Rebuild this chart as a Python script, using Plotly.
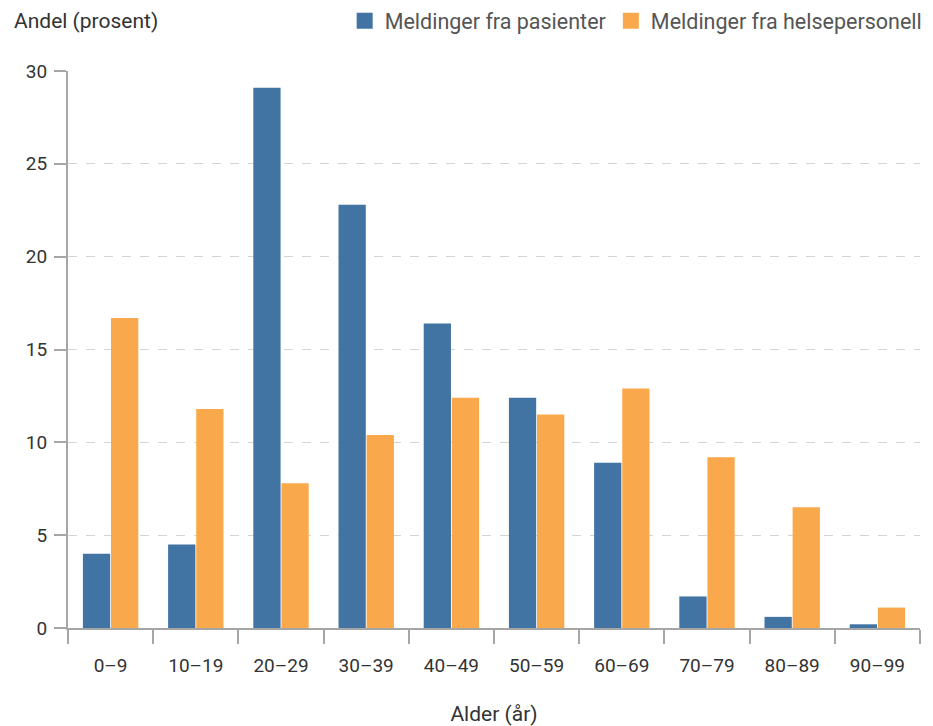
import plotly.graph_objects as go

categories = ["0–9", "10–19", "20–29", "30–39", "40–49", "50–59", "60–69", "70–79", "80–89", "90–99"]
pasienter = [4.0, 4.5, 29.1, 22.8, 16.4, 12.4, 8.9, 1.7, 0.6, 0.2]
helsepersonell = [16.7, 11.8, 7.8, 10.4, 12.4, 11.5, 12.9, 9.2, 6.5, 1.1]
y_ticks = [0, 5, 10, 15, 20, 25, 30]
series_names = ["Meldinger fra pasienter", "Meldinger fra helsepersonell"]

BLUE = "#4174a3"
ORANGE = "#f9a84b"
TEXT = "#333333"
FONT = "Roboto"

fig = go.Figure()
for name, vals, col in [(series_names[0], pasienter, BLUE), (series_names[1], helsepersonell, ORANGE)]:
    fig.add_trace(go.Bar(x=categories, y=vals, name=name, showlegend=False,
                         legendgroup=name, marker=dict(color=col, line=dict(width=0))))
# legend entries with larger square swatches
for name, col in [(series_names[0], BLUE), (series_names[1], ORANGE)]:
    fig.add_trace(go.Scatter(x=[None], y=[None], mode="markers", name=name, legendgroup=name,
                             marker=dict(symbol="square", size=16, color=col), showlegend=True))

# page body has an 8px default margin, so the figure is sized to fit the window
fig.update_layout(
    width=925, height=718,
    margin=dict(l=60, r=13, t=63, b=98, autoexpand=False),
    paper_bgcolor="white", plot_bgcolor="white",
    font=dict(family=FONT, size=21, color=TEXT),
    barmode="group", bargap=0.34, bargroupgap=0.03,
    showlegend=True,
    legend=dict(orientation="h", x=1.009, xanchor="right", y=1.09, yanchor="middle",
                font=dict(family=FONT, size=21.5, color="#555555"),
                itemsizing="trace", traceorder="normal", itemwidth=30,
                bgcolor="rgba(0,0,0,0)"),
    xaxis=dict(type="category", showline=True, linecolor="#a6a6a6", linewidth=2,
               ticks="outside", tickson="boundaries", ticklen=14, tickwidth=1.5,
               tickcolor="#a6a6a6", showgrid=False, zeroline=False, automargin=False,
               ticklabelstandoff=19,
               tickfont=dict(size=19, color=TEXT),
               title=dict(text="Alder (år)", font=dict(size=21, color=TEXT), standoff=33)),
    yaxis=dict(range=[0, 30], tickvals=y_ticks, showline=True, linecolor="#a6a6a6",
               linewidth=2, ticks="outside", ticklen=12, tickwidth=1.5, tickcolor="#a6a6a6",
               showgrid=True, gridcolor="#d4d4d4", griddash="dash", gridwidth=1,
               zeroline=False, automargin=False, ticklabelstandoff=3,
               tickfont=dict(size=19, color=TEXT)),
    annotations=[dict(text="Andel (prosent)", xref="paper", yref="paper", x=0, y=1,
                      xanchor="left", yanchor="middle", xshift=-56, yshift=50,
                      showarrow=False, font=dict(family=FONT, size=21, color=TEXT))],
)

fig.write_html("out.html")
